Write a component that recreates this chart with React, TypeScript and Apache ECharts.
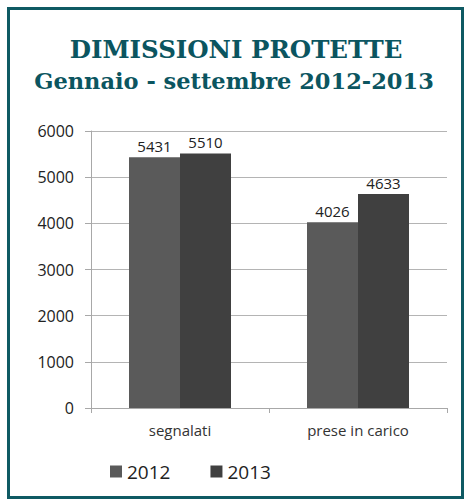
import React, { useEffect, useRef } from "react";
import * as echarts from "echarts";

const categories = ["segnalati", "prese in carico"];
const seriesNames = ["2012", "2013"];
const values2012 = [5431, 4026];
const values2013 = [5510, 4633];
const yTicks = { min: 0, max: 6000, interval: 1000 };

export default function App() {
  const ref = useRef<HTMLDivElement>(null);
  useEffect(() => {
    if (!ref.current) return;
    const chart = echarts.init(ref.current, null, { renderer: "svg" });
    const labelStyle = {
      show: true,
      position: "top" as const,
      distance: 4,
      fontFamily: "Open Sans",
      fontSize: 15,
      color: "#222",
    };
    chart.setOption({
      animation: false,
      backgroundColor: "#ffffff",
      graphic: [
        {
          type: "rect",
          shape: { x: 8.5, y: 8.5, width: 454, height: 489 },
          style: { fill: "none", stroke: "#0f5a63", lineWidth: 3 },
        },
        {
          type: "text",
          x: 236,
          y: 49,
          style: {
            text: "DIMISSIONI PROTETTE",
            fontFamily: "DejaVu Serif",
            fontWeight: "bold",
            fontSize: 24.5,
            fill: "#0b5560",
            align: "center",
            verticalAlign: "middle",
          },
        },
        {
          type: "text",
          x: 234,
          y: 81,
          style: {
            text: "Gennaio - settembre 2012-2013",
            fontFamily: "DejaVu Serif",
            fontWeight: "bold",
            fontSize: 22.5,
            fill: "#0b5560",
            align: "center",
            verticalAlign: "middle",
          },
        },
      ],
      grid: { left: 91, right: 21, top: 131, bottom: 93 },
      legend: {
        data: seriesNames,
        left: 105,
        top: 457,
        icon: "rect",
        itemWidth: 12,
        itemHeight: 12,
        itemGap: 40,
        textStyle: { fontFamily: "Open Sans", fontSize: 19, color: "#222" },
      },
      xAxis: {
        type: "category",
        data: categories,
        axisLine: { lineStyle: { color: "#a8a8a8", width: 1 } },
        axisTick: { show: true, length: 5, lineStyle: { color: "#a8a8a8" } },
        axisLabel: {
          fontFamily: "Open Sans",
          fontSize: 15,
          color: "#333",
          margin: 14,
        },
      },
      yAxis: {
        type: "value",
        min: yTicks.min,
        max: yTicks.max,
        interval: yTicks.interval,
        axisLine: { show: true, lineStyle: { color: "#a8a8a8", width: 1 } },
        axisTick: { show: true, length: 6, lineStyle: { color: "#a8a8a8" } },
        splitLine: { lineStyle: { color: "#b4b4b4", width: 1 } },
        axisLabel: {
          fontFamily: "Open Sans",
          fontSize: 16,
          color: "#222",
          margin: 17,
          formatter: (v: number) => String(v),
        },
      },
      series: [
        {
          name: seriesNames[0],
          type: "bar",
          data: values2012,
          barWidth: 51,
          barGap: "0%",
          itemStyle: { color: "#5a5a5a" },
          label: labelStyle,
        },
        {
          name: seriesNames[1],
          type: "bar",
          data: values2013,
          barWidth: 51,
          barGap: "0%",
          itemStyle: { color: "#404040" },
          label: labelStyle,
        },
      ],
    });
    return () => chart.dispose();
  }, []);
  return (
    <div
      ref={ref}
      style={{ position: "absolute", left: 0, top: 0, width: 468, height: 501 }}
    />
  );
}
